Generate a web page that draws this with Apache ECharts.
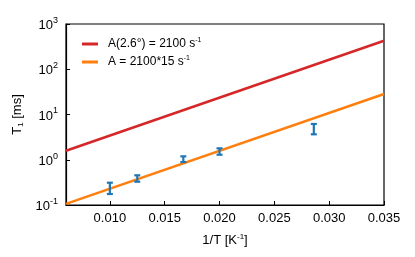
<!DOCTYPE html>
<html>
<head>
<meta charset="utf-8">
<script src="https://cdn.jsdelivr.net/npm/echarts@6/dist/echarts.min.js"></script>
<style>html,body{margin:0;padding:0;background:#fff;}#c{width:415px;height:257px;}</style>
</head>
<body>
<div id="c"></div>
<script>
// Data
const xTicks = [0.010, 0.015, 0.020, 0.025, 0.030, 0.035];
const lineX = [0.006, 0.035];
const redY = [1.585, 427];
const orangeY = [0.106, 28.4];
const ptX = [0.010, 0.0125, 0.0167, 0.020, 0.0286];
const errLow = [0.175, 0.327, 0.89, 1.29, 3.65];
const errHigh = [0.311, 0.453, 1.19, 1.79, 6.17];
const seriesNames = ['A(2.6°) = 2100 s', 'A = 2100*15 s'];

const FONT = 'Liberation Sans';
const chart = echarts.init(document.getElementById('c'));
const errData = ptX.map((x, i) => [x, errLow[i], errHigh[i]]);
const blue = '#1f77b4';

chart.setOption({
  animation: false,
  textStyle: {fontFamily: FONT},
  grid: {left: 66, right: 31, top: 24, bottom: 52, show: true, borderColor: '#000', borderWidth: 1.2, backgroundColor: 'transparent'},
  legend: {
    orient: 'vertical', left: 77, top: 32, itemWidth: 16, itemHeight: 3, itemGap: 5,
    icon: 'rect',
    data: seriesNames,
    formatter: n => '{t|' + n + '}{s|-1}',
    textStyle: {
      fontFamily: FONT, color: '#000',
      rich: {
        t: {fontSize: 12, fontFamily: FONT, color: '#000', padding: [0, 0, 0, 5], lineHeight: 14},
        s: {fontSize: 7, fontFamily: FONT, color: '#000', verticalAlign: 'top', lineHeight: 10}
      }
    }
  },
  xAxis: {
    type: 'value', min: 0.006, max: 0.035,
    name: '{t|1/T [K}{s|-1}{t|]}', nameLocation: 'middle', nameGap: 28,
    nameTextStyle: {rich: {
      t: {fontSize: 13, fontFamily: FONT, color: '#000', lineHeight: 15},
      s: {fontSize: 8, fontFamily: FONT, color: '#000', verticalAlign: 'top', lineHeight: 10}
    }},
    axisLine: {lineStyle: {color: '#000', width: 1.2}},
    axisTick: {inside: true, length: 4, customValues: xTicks, lineStyle: {color: '#000'}},
    axisLabel: {customValues: xTicks, fontSize: 13, fontFamily: FONT, color: '#000', margin: 7,
      formatter: v => v.toFixed(3)},
    splitLine: {show: false}
  },
  yAxis: {
    type: 'log', logBase: 10, min: 0.1, max: 1000,
    name: '{t|T}{b|1}{t| [ms]}', nameLocation: 'middle', nameGap: 38, nameRotate: 90,
    nameTextStyle: {rich: {
      t: {fontSize: 13, fontFamily: FONT, color: '#000', lineHeight: 15},
      b: {fontSize: 8, fontFamily: FONT, color: '#000', verticalAlign: 'bottom', lineHeight: 10}
    }},
    axisLine: {show: true, lineStyle: {color: '#000', width: 1.2}},
    axisTick: {inside: true, length: 4, lineStyle: {color: '#000'}},
    minorTick: {show: false},
    axisLabel: {
      fontFamily: FONT, color: '#000', margin: 8,
      formatter: v => '{b|10}{s|' + Math.round(Math.log10(v)) + '}',
      rich: {
        b: {fontSize: 13, fontFamily: FONT, color: '#000', lineHeight: 16, verticalAlign: 'bottom'},
        s: {fontSize: 9, fontFamily: FONT, color: '#000', verticalAlign: 'top', lineHeight: 16}
      }
    },
    splitLine: {show: false}
  },
  series: [
    {name: seriesNames[0], type: 'line', symbol: 'none', color: '#d62728',
     lineStyle: {width: 2.5, color: '#d62728'}, data: lineX.map((x, i) => [x, redY[i]]), z: 3},
    {name: seriesNames[1], type: 'line', symbol: 'none', color: '#ff7f0e',
     lineStyle: {width: 2.5, color: '#ff7f0e'}, data: lineX.map((x, i) => [x, orangeY[i]]), z: 3},
    {type: 'custom', data: errData, encode: {x: 0, y: [1, 2]}, z: 5,
     renderItem: (params, api) => {
       const x = api.value(0), lo = api.value(1), hi = api.value(2);
       const a = api.coord([x, lo]), b = api.coord([x, hi]);
       const w = 3;
       const st = {stroke: blue, lineWidth: 2.2};
       return {type: 'group', children: [
         {type: 'line', shape: {x1: a[0], y1: a[1], x2: b[0], y2: b[1]}, style: st},
         {type: 'line', shape: {x1: a[0] - w, y1: a[1], x2: a[0] + w, y2: a[1]}, style: st},
         {type: 'line', shape: {x1: b[0] - w, y1: b[1], x2: b[0] + w, y2: b[1]}, style: st}
       ]};
     }}
  ]
});
</script>
</body>
</html>
